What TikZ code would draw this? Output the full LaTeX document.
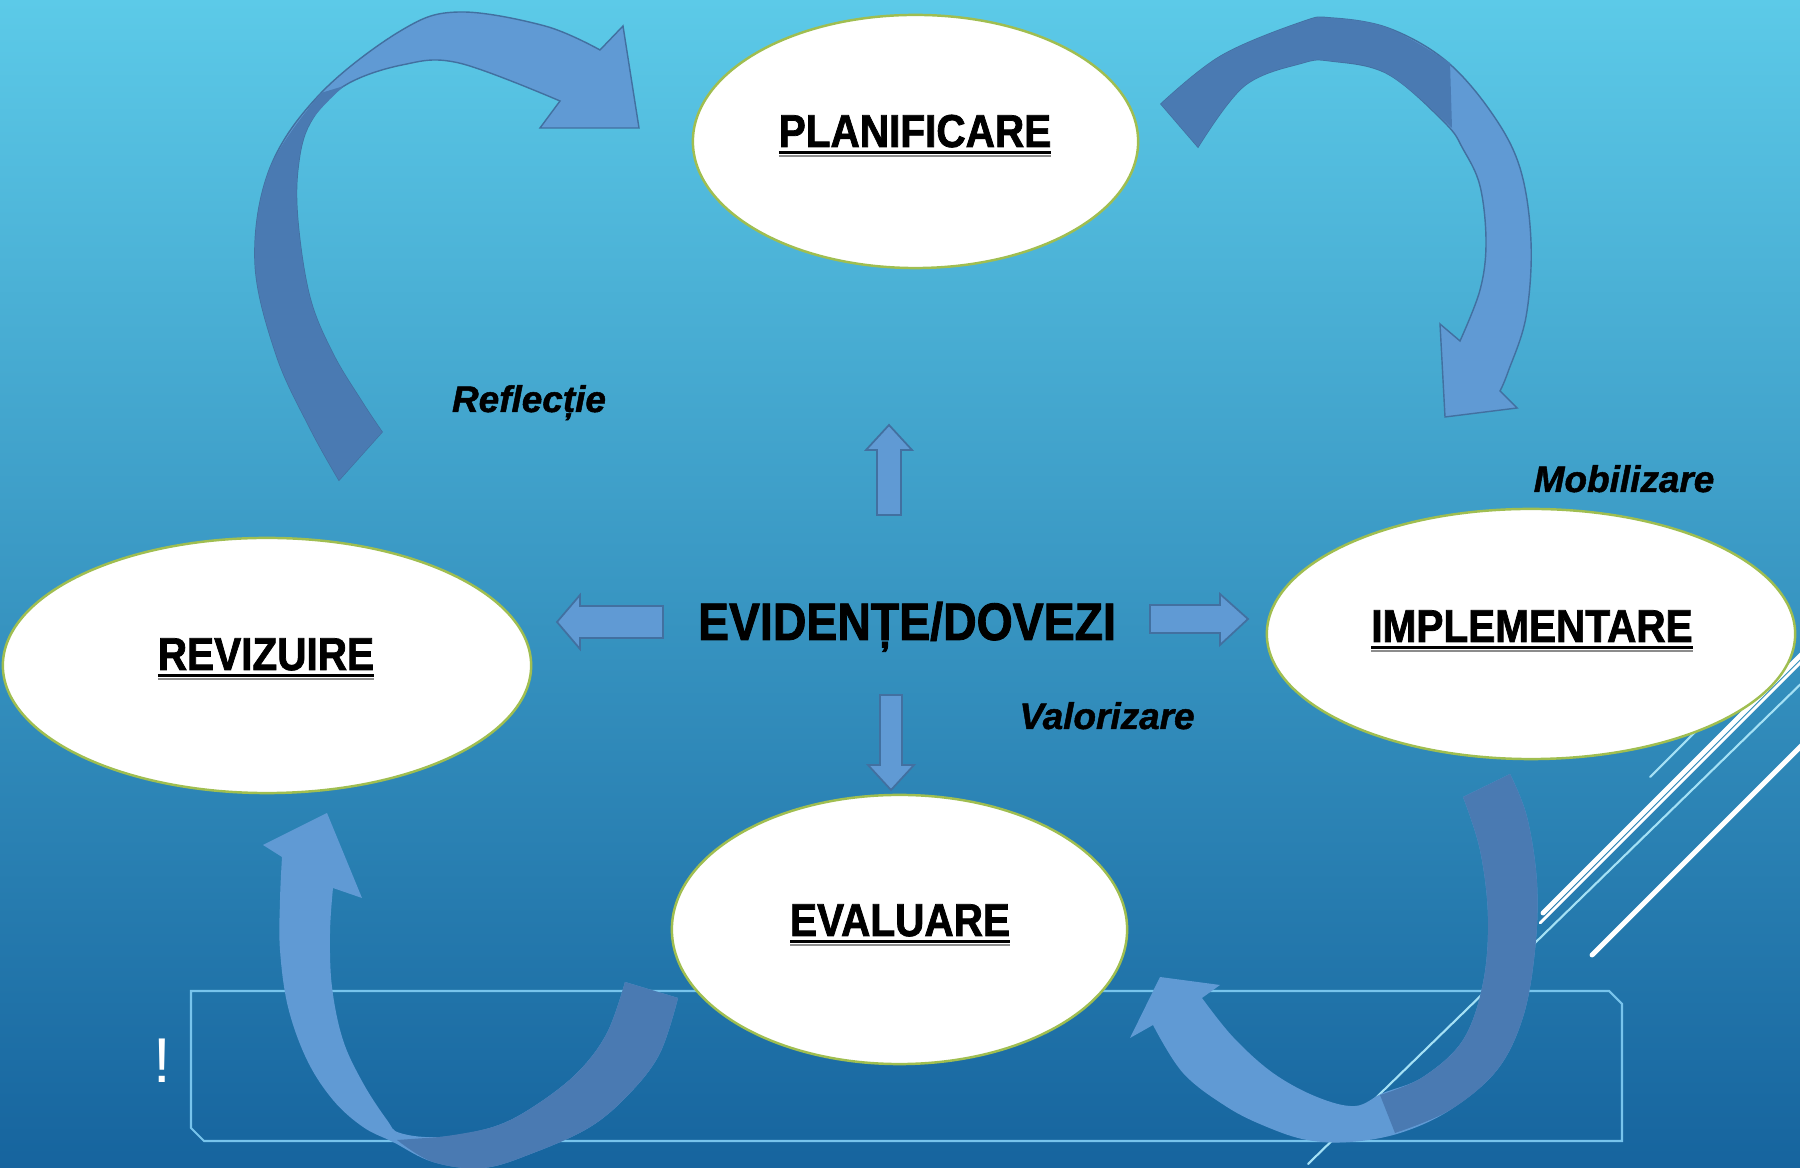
\documentclass[tikz,border=0pt]{standalone}
\usepackage{fontspec}
\setmainfont{Liberation Sans}[BoldFeatures={FakeBold=1.3}, BoldItalicFeatures={FakeBold=1.3}]
\newfontfamily\stagefont{Liberation Sans}[FakeStretch=0.88, BoldFeatures={FakeBold=1.6}]
\newcommand{\stageul}[1]{\setbox0\hbox{#1}\rlap{\color{black!45}\rule[-2.9pt]{\wd0}{0.7pt}}\rlap{\rule[-2.05pt]{\wd0}{0.85pt}}\box0}
\usetikzlibrary{shapes.geometric}
\definecolor{bgtop}{RGB}{92,202,232}
\definecolor{bgmid}{RGB}{50,152,202}
\definecolor{bgbot}{RGB}{22,100,158}
\definecolor{arrlight}{RGB}{96,154,212}
\definecolor{arrdark}{RGB}{74,122,178}
\definecolor{arredge}{RGB}{66,112,160}
\definecolor{stageborder}{RGB}{160,190,80}
\definecolor{frameline}{RGB}{120,196,236}
\definecolor{thinline}{RGB}{165,225,245}

\begin{document}
\begin{tikzpicture}[x=0.01cm, y=-0.01cm,
  stage/.style={ellipse, draw=stageborder, line width=0.7pt, fill=white, inner sep=0pt},
  stagetext/.style={font=\stagefont\bfseries\fontsize{13.1}{15}\selectfont, anchor=base, inner sep=0pt},
  evidtext/.style={font=\stagefont\bfseries\fontsize{15}{17}\selectfont, anchor=base, inner sep=0pt},
  phaselabel/.style={font=\bfseries\itshape\fontsize{10.5}{12}\selectfont, anchor=base, inner sep=0pt},
  bigarrow/.style={fill=arrlight},
  bigshade/.style={fill=arrdark},
  smallarrow/.style={fill=arrlight, draw=arredge, line width=0.5pt},
  deco/.style={white, line width=1.4pt, line cap=round},
  decothin/.style={thinline, line width=0.6pt, line cap=round}]

\useasboundingbox (0,0) rectangle (1800,1168);
\shade[top color=bgtop, middle color=bgmid, bottom color=bgbot] (0,0) rectangle (1800,1168);

% slide decoration
\draw[deco] (1543,913) -- (1810,646);
\draw[white, line width=0.8pt, line cap=round] (1540,923) -- (1810,653);
\draw[decothin] (1308,1164) -- (1810,675);
\draw[deco] (1592,955) -- (1810,737);
\draw[decothin] (1650,777) -- (1720,707);
\draw[frameline, line width=0.6pt] (191,991) -- (1609,991) -- (1622,1004) -- (1622,1141)
  -- (204,1141) -- (191,1128) -- cycle;
\node[white, font=\fontsize{18}{20}\selectfont, anchor=base, inner sep=0pt] (mark) at (162,1083) {!};

% Reflectie arrow
\fill[bigarrow, draw=arredge, line width=0.4pt] plot[smooth, tension=0.6] coordinates {(339,480) (310,428) (276,354) (255,261) (270,168) (321,93) (402,30) (459,12) (545,26) (600,50)}
  -- (623,26) -- (639,128) -- (540,128) -- (560,101)
  -- plot[smooth, tension=0.6] coordinates {(560,101) (459,63) (402,65) (344,86) (310,123) (298,168) (298,223) (310,298) (333,354) (362,402) (382,432)} -- cycle;
\fill[bigshade] plot[smooth, tension=0.6] coordinates {(339,480) (310,428) (276,354) (255,261) (270,168) (321,93)}
  -- plot[smooth, tension=0.6] coordinates {(344,86) (310,123) (298,168) (298,223) (310,298) (333,354) (362,402) (382,432)} -- cycle;

% Mobilizare arrow
\fill[bigarrow, draw=arredge, line width=0.4pt] plot[smooth, tension=0.6] coordinates {(1161,104) (1221,56) (1302,22) (1331,18) (1388,28) (1445,60) (1491,112) (1520,168) (1531,242) (1526,317) (1508,372) (1500,391)}
  -- (1517,408) -- (1445,417) -- (1440,324) -- (1460,341)
  -- plot[smooth, tension=0.6] coordinates {(1460,341) (1480,290) (1486,242) (1480,186) (1463,149) (1445,123) (1388,74) (1331,61) (1302,63) (1244,86) (1198,147)} -- cycle;
\fill[bigshade] plot[smooth, tension=0.6] coordinates {(1161,104) (1221,56) (1302,22) (1331,18) (1388,28) (1450,63)}
  -- plot[smooth, tension=0.6] coordinates {(1452,128) (1388,74) (1331,61) (1302,63) (1244,86) (1198,147)} -- cycle;

% Revizuire arrow
\fill[bigarrow] plot[smooth, tension=0.6] coordinates {(678,998) (660,1053) (630,1093) (590,1127) (533,1153) (483,1168) (433,1162) (393,1142) (363,1127) (333,1100) (307,1060) (288,1007) (280,950) (280,900) (282,857)}
  -- (263,845) -- (327,813) -- (362,898) -- (333,888)
  -- plot[smooth, tension=0.6] coordinates {(333,888) (330,933) (332,987) (343,1040) (363,1083) (387,1120) (400,1133) (440,1137) (493,1127) (533,1107) (577,1073) (607,1033) (625,982)} -- cycle;
\fill[bigshade] plot[smooth, tension=0.6] coordinates {(678,998) (660,1053) (630,1093) (590,1127) (533,1153) (483,1168) (433,1162) (397,1140)}
  -- plot[smooth, tension=0.6] coordinates {(440,1137) (493,1127) (533,1107) (577,1073) (607,1033) (625,982)} -- cycle;

% Evaluare arrow
\fill[bigarrow] plot[smooth, tension=0.6] coordinates {(1510,774) (1527,817) (1537,883) (1535,950) (1523,1017) (1497,1070) (1450,1110) (1400,1133) (1350,1142) (1307,1140) (1267,1127) (1227,1107) (1183,1073) (1153,1025)}
  -- (1130,1038) -- (1160,977) -- (1220,985) -- (1202,998)
  -- plot[smooth, tension=0.6] coordinates {(1202,998) (1233,1037) (1273,1073) (1317,1097) (1355,1106) (1383,1093) (1423,1077) (1463,1040) (1483,983) (1488,917) (1480,850) (1463,797)} -- cycle;
\fill[bigshade] plot[smooth, tension=0.6] coordinates {(1510,774) (1527,817) (1537,883) (1535,950) (1523,1017) (1497,1070) (1450,1110) (1395,1133)}
  -- plot[smooth, tension=0.6] coordinates {(1380,1095) (1423,1077) (1463,1040) (1483,983) (1488,917) (1480,850) (1463,797)} -- cycle;

% Stages
\node[stage, minimum width=4.45cm, minimum height=2.53cm] (plan) at (915.5,141.5) {};
\node[stage, minimum width=5.28cm, minimum height=2.50cm] (impl) at (1531,634) {};
\node[stage, minimum width=4.55cm, minimum height=2.69cm] (eval) at (899.5,929.5) {};
\node[stage, minimum width=5.28cm, minimum height=2.55cm] (rev) at (267,665.5) {};

\node[stagetext] (plantxt) at (915,147) {\stageul{PLANIFICARE}};
\node[stagetext] (impltxt) at (1532,642) {\stageul{IMPLEMENTARE}};
\node[stagetext] (evaltxt) at (900,936) {\stageul{EVALUARE}};
\node[stagetext] (revtxt) at (266,670) {\stageul{REVIZUIRE}};

% Centre
\node[evidtext] (evid) at (907,640) {EVIDENȚE/DOVEZI};
\draw[smallarrow] (877,515) -- (877,450) -- (866,450) -- (889,425) -- (912,450) -- (901,450) -- (901,515) -- cycle;
\draw[smallarrow] (880,695) -- (902,695) -- (902,765) -- (914,765) -- (891,790) -- (868,765) -- (880,765) -- cycle;
\draw[smallarrow] (663,606) -- (580,606) -- (580,595) -- (557,622) -- (580,649) -- (580,638) -- (663,638) -- cycle;
\draw[smallarrow] (1150,605) -- (1220,605) -- (1220,594) -- (1248,619) -- (1220,645) -- (1220,633) -- (1150,633) -- cycle;

% Phases
\node[phaselabel] (refl) at (529,412) {Reflecție};
\node[phaselabel] (mob) at (1624,492) {Mobilizare};
\node[phaselabel] (valor) at (1107,729) {Valorizare};
\end{tikzpicture}
\end{document}
